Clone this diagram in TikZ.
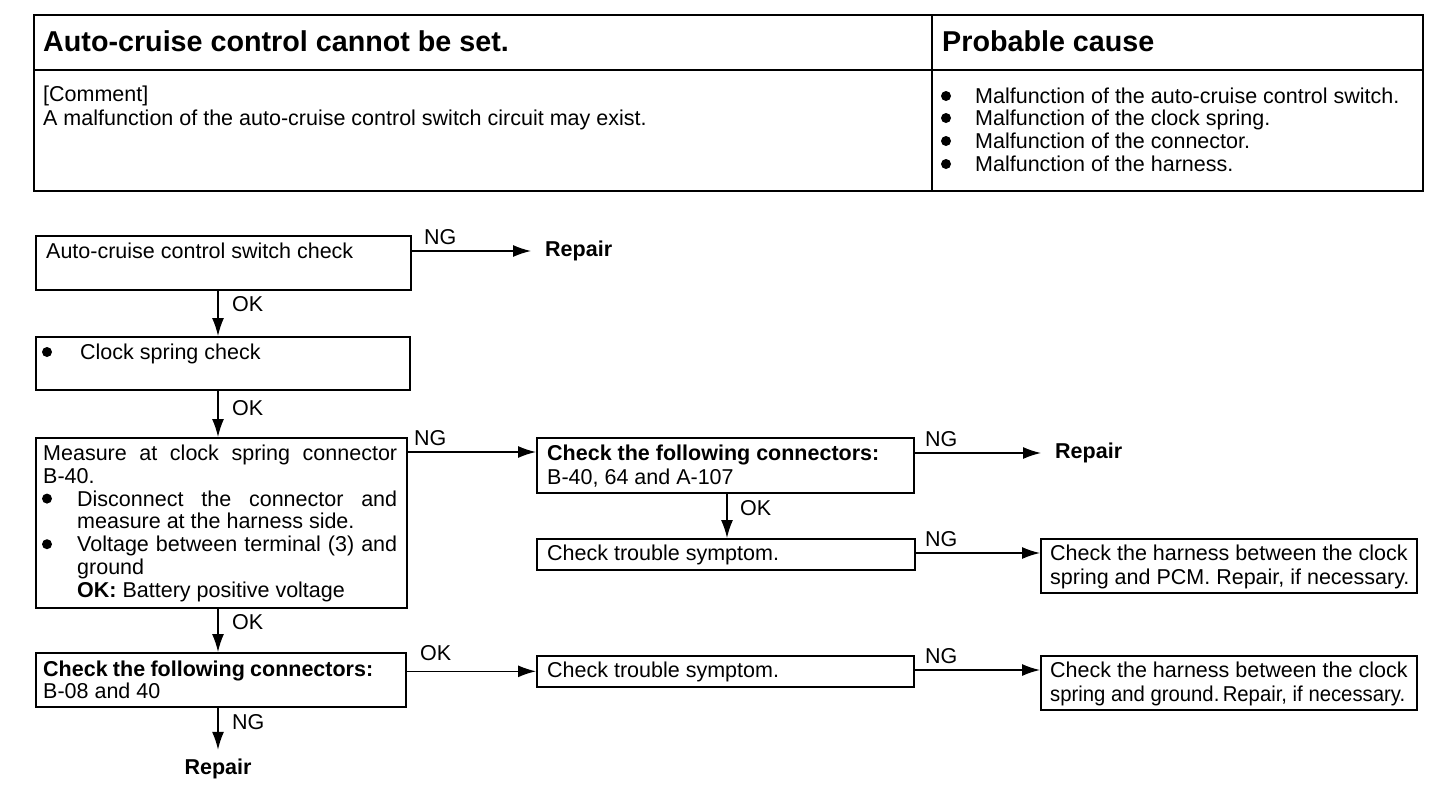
\documentclass[tikz,border=0pt]{standalone}
\usepackage{fontspec}
\setmainfont{Liberation Sans}
\usetikzlibrary{arrows.meta}
\newcommand{\fs}{\fontsize{21.5}{22.8}\selectfont}
\newcommand{\fh}{\fontsize{28.7}{30}\selectfont\bfseries}
\newcommand{\jl}[2]{\makebox[#1][s]{#2}}
\begin{document}
\begin{tikzpicture}[x=1pt,y=-1pt,
  box/.style={draw, line width=1.6pt, inner sep=0pt, anchor=north west},
  txt/.style={font=\fs, anchor=base west, inner sep=0pt},
  rep/.style={font=\fs\bfseries, inner sep=0pt},
  arr/.style={-{Latex[length=18pt,width=12pt]}, line width=1.4pt},
  hd/.style={font=\fh, anchor=base west, inner sep=0pt},
  dot/.style={circle, fill, inner sep=0pt, minimum size=10pt},
]
\useasboundingbox (0,0) rectangle (1456,796);
% ---------- header table ----------
\node[draw, line width=2.4pt, anchor=north west, inner sep=0pt,
      minimum width=1389pt, minimum height=176pt] (tab) at (33,14) {};
\draw[line width=1.8pt] (tab.west |- 0,70) -- (tab.east |- 0,70);
\draw[line width=1.6pt] (tab.north -| 932,0) -- (tab.south -| 932,0);
\node[hd] (h1) at (43,51) {Auto-cruise control cannot be set.};
\node[hd] (h2) at (942,51) {Probable cause};
\node[txt] (c1) at (43,101.5) {[Comment]};
\node[txt] (c2) at (43,125) {A malfunction of the auto-cruise control switch circuit may exist.};
\foreach \yy/\tt [count=\i] in {103.5/Malfunction of the auto-cruise control switch.,
  125.5/Malfunction of the clock spring.,
  148.5/Malfunction of the connector.,
  171.5/Malfunction of the harness.}{
  \node[dot] (pb\i) at (946,\yy-7.5) {};
  \node[txt] (pc\i) at (975,\yy) {\tt};
}
% ---------- flowchart boxes ----------
\node[box, minimum width=375pt, minimum height=54pt] (b1) at (35,235) {};
\node[txt] (t1) at (46,258.5) {Auto-cruise control switch check};
\node[box, minimum width=374pt, minimum height=53pt] (b2) at (35,336) {};
\node[dot] (t2a) at (47,352) {};
\node[txt] (t2) at (80,359.5) {Clock spring check};
\node[box, minimum width=371pt, minimum height=170pt] (b3) at (35,437) {};
\node[txt] (t3a) at (43,460.5) {\jl{354pt}{Measure at clock spring connector}};
\node[txt] (t3b) at (43,483.3) {B-40.};
\node[dot] (t3c) at (47,498.6) {};
\node[txt] (t3d) at (77,506.1) {\jl{320pt}{Disconnect the connector and}};
\node[txt] (t3e) at (77,528.9) {measure at the harness side.};
\node[dot] (t3f) at (47,544.2) {};
\node[txt] (t3g) at (77,551.7) {\jl{320pt}{Voltage between terminal (3) and}};
\node[txt] (t3h) at (77,574.5) {ground};
\node[txt] (t3i) at (77,597.3) {\textbf{OK:} Battery positive voltage};
\node[box, minimum width=377pt, minimum height=55pt] (b4) at (536,437) {};
\node[txt] (t4a) at (547,460.5) {\textbf{Check the following connectors:}};
\node[txt] (t4b) at (547,484) {B-40, 64 and A-107};
\node[box, minimum width=378pt, minimum height=31pt] (b5) at (536,538) {};
\node[txt] (t5) at (547,560.5) {Check trouble symptom.};
\node[box, minimum width=376pt, minimum height=54pt] (b6) at (1040,538) {};
\node[txt] (t6a) at (1050,560.5) {Check the harness between the clock};
\node[txt] (t6b) at (1050,584) {spring and PCM. Repair, if necessary.};
\node[box, minimum width=370pt, minimum height=54pt] (b7) at (35,652) {};
\node[txt] (t7a) at (43,676) {\textbf{\jl{330pt}{Check the following connectors:}}};
\node[txt] (t7b) at (43,698) {B-08 and 40};
\node[box, minimum width=377pt, minimum height=31pt] (b8) at (536,655) {};
\node[txt] (t8) at (547,677.5) {Check trouble symptom.};
\node[box, minimum width=376pt, minimum height=54pt] (b9) at (1040,655) {};
\node[txt] (t9a) at (1050,677.5) {Check the harness between the clock};
\node[txt] (t9b) at (1050,701) {\resizebox{355pt}{\height}{spring and ground.\,Repair, if necessary.}};
% ---------- end points ----------
\node[rep, anchor=west] (r1) at (545,251) {Repair};
\node[rep, anchor=west] (r2) at (1055,453) {Repair};
\node[rep] (r3) at (218,769) {Repair};
% ---------- connectors ----------
\draw[arr] (r1.west -| b1.east) -- ([xshift=-14pt]r1.west);
\draw[arr] (b1.south -| 218,0) -- (b2.north -| 218,0);
\draw[arr] (b2.south -| 218,0) -- (b3.north -| 218,0);
\draw[arr] ([yshift=-15pt]b3.north east) -- ([yshift=-15pt]b4.north west);
\draw[arr] (r2.west -| b4.east) -- ([xshift=-14pt]r2.west);
\draw[arr] (b4.south -| 727,0) -- (b5.north -| 727,0);
\draw[arr] ([yshift=-15pt]b5.north east) -- ([yshift=-15pt]b6.north west);
\draw[arr] (b3.south -| 218,0) -- (b7.north -| 218,0);
\draw[arr] (b8.west -| b7.east) -- (b8.west);
\draw[arr] ([yshift=-15pt]b8.north east) -- ([yshift=-15pt]b9.north west);
\draw[arr] (b7.south -| 218,0) -- ([yshift=9pt]r3.north);
% ---------- labels ----------
\node[txt] (l1) at (424,244.5) {NG};
\node[txt] (l2) at (232,311.5) {OK};
\node[txt] (l3) at (232,415.5) {OK};
\node[txt] (l4) at (414,445.5) {NG};
\node[txt] (l5) at (925,446.5) {NG};
\node[txt] (l6) at (740,515.5) {OK};
\node[txt] (l7) at (925,546.5) {NG};
\node[txt] (l8) at (232,629.5) {OK};
\node[txt] (l9) at (420,660.5) {OK};
\node[txt] (l10) at (925,663.5) {NG};
\node[txt] (l11) at (232,729.5) {NG};
\end{tikzpicture}
\end{document}
